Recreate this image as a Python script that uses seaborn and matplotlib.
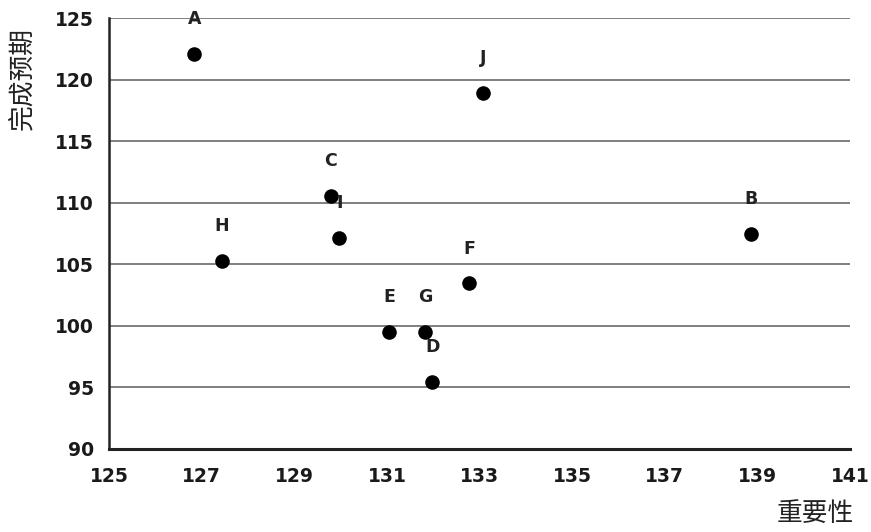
import matplotlib
matplotlib.use("Agg")
import matplotlib.pyplot as plt
import seaborn as sns
import pandas as pd

# values
names = ['A', 'B', 'C', 'D', 'E', 'F', 'G', 'H', 'I', 'J']
importance = [126.84, 138.87, 129.79, 131.98, 131.05, 132.78, 131.83, 127.44, 129.97, 133.08]
completion = [122.1, 107.5, 110.55, 95.45, 99.5, 103.45, 99.5, 105.3, 107.15, 118.95]
x_ticks = [125, 127, 129, 131, 133, 135, 137, 139, 141]
y_ticks = [90, 95, 100, 105, 110, 115, 120, 125]

df = pd.DataFrame({'name': names, 'x': importance, 'y': completion})

sns.set_style("white")
plt.rcParams['font.family'] = ['DejaVu Sans', 'Noto Sans CJK SC']
cjk = ['Noto Sans CJK SC', 'DejaVu Sans']

fig = plt.figure(figsize=(8.71, 5.32), dpi=100)
ax = fig.add_axes([109 / 871, 1 - 449 / 532, (850 - 109) / 871, (449 - 18) / 532])

sns.scatterplot(data=df, x='x', y='y', color='black', s=110, edgecolor='black',
                linewidth=0, ax=ax, zorder=3, legend=False)

for n, xv, yv in zip(names, importance, completion):
    ax.annotate(n, (xv, yv), xytext=(0, 25), textcoords='offset points',
                ha='center', va='center', fontsize=12.5, fontweight='bold', color='#222222')

ax.set_xlim(x_ticks[0], x_ticks[-1])
ax.set_ylim(y_ticks[0], y_ticks[-1])
ax.set_xticks(x_ticks)
ax.set_yticks(y_ticks)
ax.tick_params(axis='y', length=0, labelsize=13.5, pad=11)
ax.tick_params(axis='x', length=0, labelsize=13.5, pad=13)
for lab in ax.get_xticklabels() + ax.get_yticklabels():
    lab.set_fontweight('bold')
    lab.set_color('#1a1a1a')

ax.yaxis.grid(True, color='#7f7f7f', linewidth=1.4)
ax.xaxis.grid(False)
ax.set_axisbelow(True)
for side in ['top', 'right']:
    ax.spines[side].set_visible(False)
ax.spines['left'].set_color('#222222')
ax.spines['left'].set_linewidth(1.8)
ax.spines['bottom'].set_color('#222222')
ax.spines['bottom'].set_linewidth(2.2)

ax.set_xlabel('')
ax.set_ylabel('')
fig.text(22 / 871, 1 - 78 / 532, '完成预期', rotation=90, ha='center', va='center',
         fontsize=18.5, family=cjk, color='#222222')
fig.text(815 / 871, 1 - 514 / 532, '重要性', ha='center', va='center',
         fontsize=18.5, family=cjk, color='#222222')

plt.savefig('out.png', dpi=100)
